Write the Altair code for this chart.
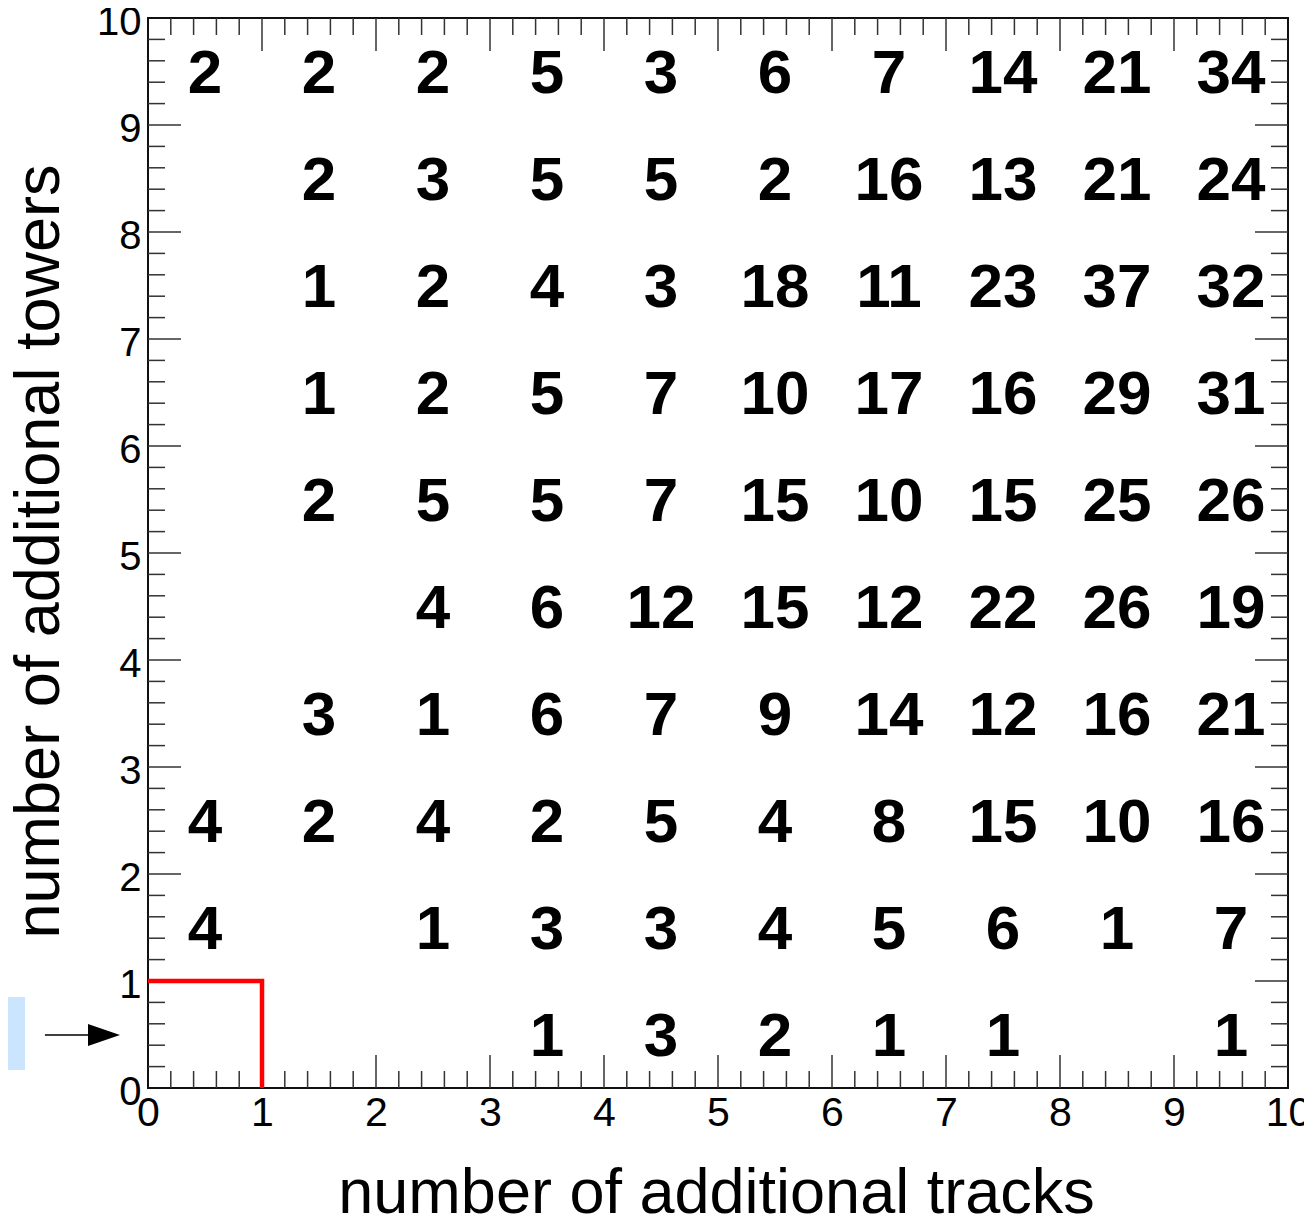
import altair as alt
import pandas as pd

# counts per row (number of additional towers = row index), columns = additional tracks 0..9
row_0 = [None, None, None, 1, 3, 2, 1, 1, None, 1]
row_1 = [4, None, 1, 3, 3, 4, 5, 6, 1, 7]
row_2 = [4, 2, 4, 2, 5, 4, 8, 15, 10, 16]
row_3 = [None, 3, 1, 6, 7, 9, 14, 12, 16, 21]
row_4 = [None, None, 4, 6, 12, 15, 12, 22, 26, 19]
row_5 = [None, 2, 5, 5, 7, 15, 10, 15, 25, 26]
row_6 = [None, 1, 2, 5, 7, 10, 17, 16, 29, 31]
row_7 = [None, 1, 2, 4, 3, 18, 11, 23, 37, 32]
row_8 = [None, 2, 3, 5, 5, 2, 16, 13, 21, 24]
row_9 = [2, 2, 2, 5, 3, 6, 7, 14, 21, 34]
rows = [row_0, row_1, row_2, row_3, row_4, row_5, row_6, row_7, row_8, row_9]

axis_values = [0, 1, 2, 3, 4, 5, 6, 7, 8, 9, 10]
cut_x = [0, 1, 1]
cut_y = [1, 1, 0]

W, H = 1140, 1070
FONT = "Liberation Sans"

cells = []
for r, row in enumerate(rows):
    for c, v in enumerate(row):
        if v is not None:
            cells.append({"xc": c + 0.5, "yc": r + 0.5, "count": str(v)})
cells = pd.DataFrame(cells)

xs = alt.Scale(domain=[0, 10], nice=False, zero=False)
ys = alt.Scale(domain=[0, 10], nice=False, zero=False)

x_axis = alt.Axis(
    values=axis_values, format="d", ticks=False, tickSize=0, domain=False, grid=False,
    labelFont=FONT, labelFontSize=41, labelColor="black", labelPadding=5,
    labelFlush=False, labelOverlap=False, labelBound=False,
    title="number of additional tracks", titleFont=FONT, titleFontSize=63,
    titleFontWeight="normal", titleColor="black", titleBaseline="alphabetic",
    titleY=124, titleX=W / 2 - 2, titleAlign="center",
)
y_axis = alt.Axis(
    values=axis_values, format="d", ticks=False, tickSize=0, domain=False, grid=False,
    labelFont=FONT, labelFontSize=40, labelColor="black", labelPadding=7, labelOffset=4,
    labelFlush=False, labelOverlap=False, labelBound=False,
    title="number of additional towers", titleFont=FONT, titleFontSize=63,
    titleFontWeight="normal", titleColor="black", titleBaseline="alphabetic",
    titleX=-90, titleY=H / 2 - 2, titleAlign="center", titleAngle=270,
)

def X(f):
    return alt.X(f, scale=xs, axis=x_axis, title="number of additional tracks")

def Y(f):
    return alt.Y(f, scale=ys, axis=y_axis, title="number of additional towers")

# tick marks (inward, ROOT style) on all four sides
tick_pos = [round(i * 0.2, 1) for i in range(1, 50)]
maj_x, min_x = 33 / H * 10, 17 / H * 10
maj_y, min_y = 33 / W * 10, 17 / W * 10
trows = []
for p in tick_pos:
    major = abs(p - round(p)) < 1e-9
    lx = maj_x if major else min_x
    ly = maj_y if major else min_y
    trows.append({"a": p, "a2": p, "b": 0, "b2": lx})
    trows.append({"a": p, "a2": p, "b": 10, "b2": 10 - lx})
    trows.append({"a": 0, "a2": ly, "b": p, "b2": p})
    trows.append({"a": 10, "a2": 10 - ly, "b": p, "b2": p})
ticks_df = pd.DataFrame(trows)

ticks = alt.Chart(ticks_df).mark_rule(color="#333333", strokeWidth=1.5).encode(
    x=X("a:Q"), x2="a2:Q", y=Y("b:Q"), y2="b2:Q",
)

text = alt.Chart(cells).mark_text(
    font=FONT, fontSize=62, fontWeight="bold", color="black", baseline="middle", align="center", dy=2
).encode(
    x=X("xc:Q"), y=Y("yc:Q"), text="count:N",
)

cut_df = pd.DataFrame({"x": cut_x, "y": cut_y, "o": [0, 1, 2]})
cut = alt.Chart(cut_df).mark_line(color="#ff0000", strokeWidth=4.5, strokeJoin="miter").encode(
    x=X("x:Q"), y=Y("y:Q"), order="o:Q",
)

# annotation box (cut off at the left edge) and arrow pointing at the first row
box_df = pd.DataFrame({"x": [-1.45], "x2": [-1.079], "y": [0.168], "y2": [0.85]})
box = alt.Chart(box_df).mark_rect(color="#cce5ff").encode(
    x=X("x:Q"), x2="x2:Q", y=Y("y:Q"), y2="y2:Q",
)
arrow_df = pd.DataFrame({"x": [-0.904], "x2": [-0.52], "y": [0.495]})
arrow_line = alt.Chart(arrow_df).mark_rule(color="black", strokeWidth=1.5).encode(
    x=X("x:Q"), x2="x2:Q", y=Y("y:Q"),
)
head_df = pd.DataFrame({"x": [-0.386], "y": [0.495]})
arrow_head = alt.Chart(head_df).mark_point(
    shape="M-1,-0.69L1,0L-1,0.69Z", size=1024, filled=True, color="black", opacity=1
).encode(
    x=X("x:Q"), y=Y("y:Q"),
)

chart = alt.layer(text, box, arrow_line, arrow_head, ticks, cut).properties(
    width=W, height=H,
    autosize=alt.AutoSizeParams(type="none"),
    padding={"left": 140, "top": 10, "right": 16, "bottom": 127},
).configure_view(stroke="#111111", strokeWidth=2)

chart.save("out.html", embed_options={"renderer": "svg", "actions": False})
